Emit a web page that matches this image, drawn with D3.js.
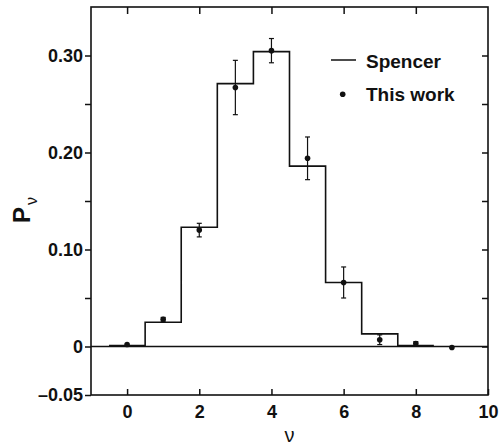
<!DOCTYPE html>
<html>
<head>
<meta charset="utf-8">
<script src="https://cdn.jsdelivr.net/npm/d3@7"></script>
<style>
html,body{margin:0;padding:0;background:#fff;}
svg{display:block;}
text{font-family:"Liberation Sans",Arial,Helvetica,sans-serif;fill:#111;}
</style>
</head>
<body>
<svg id="chart" width="499" height="448"></svg>
<script>
// Data
const nuBins = [0, 1, 2, 3, 4, 5, 6, 7, 8];
const spencer = [0.001, 0.025, 0.123, 0.271, 0.304, 0.186, 0.066, 0.013, 0.001];
const nuPoints = [0, 1, 2, 3, 4, 5, 6, 7, 8, 9];
const thisWork = [0.002, 0.028, 0.120, 0.267, 0.305, 0.194, 0.066, 0.007, 0.003, -0.001];
const thisWorkErr = [0, 0.002, 0.007, 0.028, 0.0125, 0.022, 0.016, 0.005, 0.002, 0];
const xTicks = [0, 2, 4, 6, 8, 10];
const yMajorTicks = [-0.05, 0, 0.10, 0.20, 0.30];
const yMajorLabels = ["\u20130.05", "0", "0.10", "0.20", "0.30"];
const yMinorTicks = [0.05, 0.15, 0.25];
const yRightTicks = [0, 0.05, 0.10, 0.15, 0.20, 0.25, 0.30];
const legendLabels = ["Spencer", "This work"];

const svg = d3.select("#chart");
const L = 91, R = 488, T = 7, B = 395;
const ink = "#111";

const x = d3.scaleLinear().domain([-1, 10]).range([L, R]);
const y = d3.scaleLinear().domain([-0.05, 0.35]).range([B, T]);

// frame
svg.append("rect").attr("x", L).attr("y", T).attr("width", R - L).attr("height", B - T)
  .attr("fill", "none").attr("stroke", ink).attr("stroke-width", 1.6);

// zero line
svg.append("line").attr("x1", L).attr("x2", R).attr("y1", y(0)).attr("y2", y(0))
  .attr("stroke", ink).attr("stroke-width", 1.3);

function styleAxis(g) {
  g.select(".domain").remove();
  g.selectAll(".tick line").attr("stroke", ink).attr("stroke-width", 1.5);
}

// bottom axis (inward ticks, labels below)
svg.append("g").attr("transform", `translate(0,${B})`)
  .call(d3.axisBottom(x).tickValues(xTicks).tickSize(-6).tickPadding(10.5).tickFormat(d3.format("d")))
  .call(styleAxis)
  .call(g => g.selectAll("text").attr("font-size", 18).attr("font-weight", "bold").attr("fill", ink));

// top axis inward ticks
svg.append("g").attr("transform", `translate(0,${T})`)
  .call(d3.axisTop(x).tickValues(xTicks.filter(d => d < 10)).tickSize(-7).tickFormat(""))
  .call(styleAxis);

// left axis, outward ticks
svg.append("g").attr("transform", `translate(${L},0)`)
  .call(d3.axisLeft(y).tickValues(yMajorTicks).tickSize(6).tickPadding(2)
    .tickFormat((d, i) => yMajorLabels[i]))
  .call(styleAxis)
  .call(g => g.selectAll("text").attr("font-size", 18).attr("font-weight", "bold").attr("fill", ink));
svg.append("g").attr("transform", `translate(${L},0)`)
  .call(d3.axisLeft(y).tickValues(yMinorTicks).tickSize(6).tickFormat(""))
  .call(styleAxis);

// right axis, inward ticks
svg.append("g").attr("transform", `translate(${R},0)`)
  .call(d3.axisRight(y).tickValues(yRightTicks).tickSize(-6).tickFormat(""))
  .call(styleAxis);

// Spencer histogram
const stepPts = [];
nuBins.forEach((v, i) => { stepPts.push([v - 0.5, spencer[i]]); stepPts.push([v + 0.5, spencer[i]]); });
svg.append("path")
  .attr("d", d3.line().x(d => x(d[0])).y(d => y(d[1]))(stepPts))
  .attr("fill", "none").attr("stroke", ink).attr("stroke-width", 1.6);

// This work points with error bars
const pts = nuPoints.map((v, i) => ({ v, p: thisWork[i], e: thisWorkErr[i] }));
const eb = svg.append("g").attr("stroke", ink).attr("stroke-width", 1.2);
pts.filter(d => d.e > 0).forEach(d => {
  eb.append("line").attr("x1", x(d.v)).attr("x2", x(d.v)).attr("y1", y(d.p - d.e)).attr("y2", y(d.p + d.e));
  [d.p - d.e, d.p + d.e].forEach(yy => {
    eb.append("line").attr("x1", x(d.v) - 2.5).attr("x2", x(d.v) + 2.5).attr("y1", y(yy)).attr("y2", y(yy));
  });
});
svg.append("g").selectAll("circle").data(pts).join("circle")
  .attr("cx", d => x(d.v)).attr("cy", d => y(d.p)).attr("r", 2.8).attr("fill", ink);

// legend
svg.append("line").attr("x1", 331).attr("x2", 356).attr("y1", 60).attr("y2", 60)
  .attr("stroke", ink).attr("stroke-width", 1.5);
svg.append("text").attr("x", 366).attr("y", 67.5).attr("font-size", 19).attr("font-weight", "bold").text(legendLabels[0]);
svg.append("circle").attr("cx", 342.7).attr("cy", 94.3).attr("r", 2.8).attr("fill", ink);
svg.append("text").attr("x", 366).attr("y", 100.5).attr("font-size", 19).attr("font-weight", "bold").text(legendLabels[1]);

// axis titles
svg.append("text").attr("x", x(4.5)).attr("y", 442).attr("text-anchor", "middle")
  .attr("font-size", 20).text("\u03BD");
const yt = svg.append("text").attr("transform", "translate(30,210) rotate(-90)")
  .attr("text-anchor", "middle").attr("font-size", 24).attr("font-weight", "bold");
yt.append("tspan").text("P");
yt.append("tspan").attr("dy", 7).attr("dx", 2).attr("font-size", 16).attr("font-weight", "normal").text("\u03BD");
</script>
</body>
</html>
